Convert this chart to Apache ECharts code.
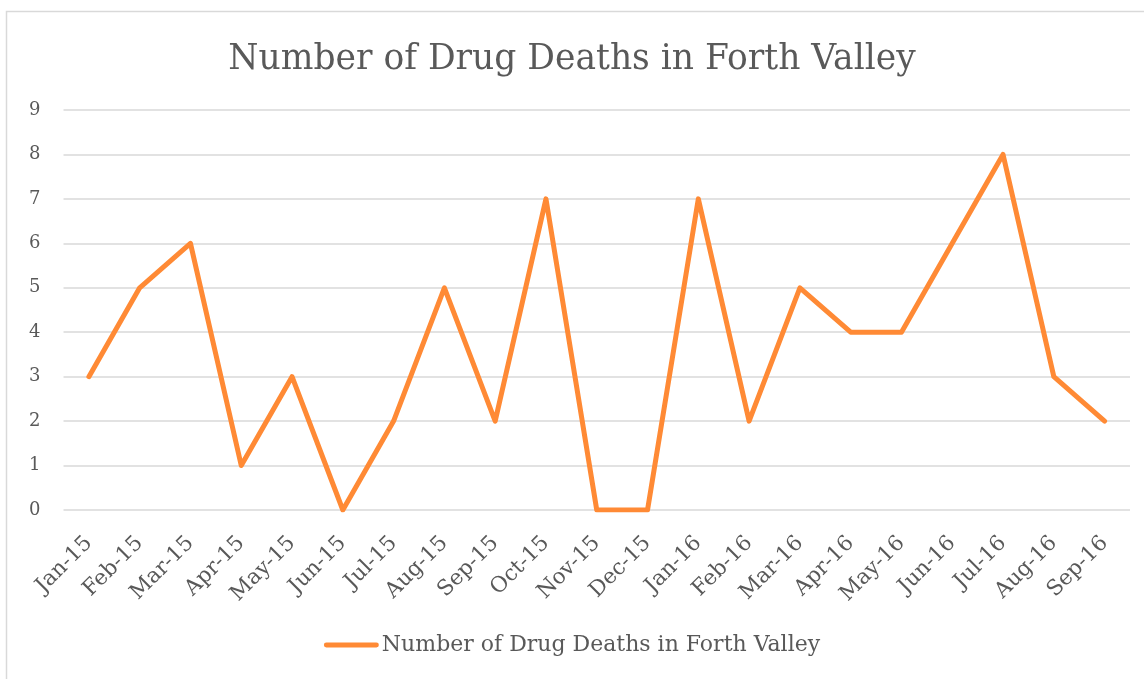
<!DOCTYPE html>
<html>
<head>
<meta charset="utf-8">
<script src="https://cdn.jsdelivr.net/npm/echarts@6/dist/echarts.min.js"></script>
<style>
  html, body { margin: 0; padding: 0; background: #fff; }
  #chart { width: 1144px; height: 679px; }
</style>
</head>
<body>
<div id="chart"></div>
<script>
// Monthly drug deaths, Jan 2015 – Sep 2016
const months = ['Jan-15','Feb-15','Mar-15','Apr-15','May-15','Jun-15','Jul-15','Aug-15','Sep-15','Oct-15','Nov-15','Dec-15',
                'Jan-16','Feb-16','Mar-16','Apr-16','May-16','Jun-16','Jul-16','Aug-16','Sep-16'];
const deaths = [3, 5, 6, 1, 3, 0, 2, 5, 2, 7, 0, 0, 7, 2, 5, 4, 4, 6, 8, 3, 2];
const seriesName = 'Number of Drug Deaths in Forth Valley';
const titleText = 'Number of Drug Deaths in Forth Valley';

const serif = '"Century Schoolbook", "DejaVu Serif", serif';
const textGrey = '#595959';
const lineOrange = '#ff8a35';

const chart = echarts.init(document.getElementById('chart'), null, { renderer: 'canvas' });
chart.setOption({
  backgroundColor: '#fff',
  animation: false,
  graphic: [{
    type: 'rect',
    shape: { x: 6.5, y: 11.5, width: 1200, height: 700 },
    style: { fill: 'none', stroke: '#d9d9d9', lineWidth: 1.5 },
    silent: true
  }],
  title: {
    text: titleText,
    left: 'center',
    top: 38,
    textStyle: { fontFamily: serif, fontSize: 34.5, fontWeight: 'normal', color: textGrey }
  },
  legend: {
    bottom: 18,
    left: 'center',
    itemWidth: 55,
    itemHeight: 5,
    itemGap: 5,
    textStyle: { fontFamily: serif, fontSize: 22, color: textGrey, padding: [0, 0, 0, -2] },
    data: [{ name: seriesName, icon: 'path://M2,0 L53,0 A2.5,2.5 0 0 1 53,5 L2,5 A2.5,2.5 0 0 1 2,0 Z' }]
  },
  grid: { left: 63.5, right: 14, top: 110, bottom: 169 },
  xAxis: {
    type: 'category',
    data: months,
    boundaryGap: true,
    axisLine: { show: false },
    axisTick: { show: false },
    axisLabel: {
      rotate: 45,
      interval: 0,
      margin: 30,
      fontFamily: serif,
      fontSize: 21.5,
      color: textGrey
    }
  },
  yAxis: {
    type: 'value',
    min: 0,
    max: 9,
    interval: 1,
    axisLine: { show: false },
    axisTick: { show: false },
    splitLine: { lineStyle: { color: '#d9d9d9', width: 1.5 } },
    axisLabel: { fontFamily: serif, fontSize: 18, color: textGrey, margin: 23 }
  },
  series: [{
    name: seriesName,
    type: 'line',
    data: deaths,
    symbol: 'none',
    lineStyle: { color: lineOrange, width: 5, cap: 'round', join: 'round' },
    itemStyle: { color: lineOrange }
  }]
});
</script>
</body>
</html>
